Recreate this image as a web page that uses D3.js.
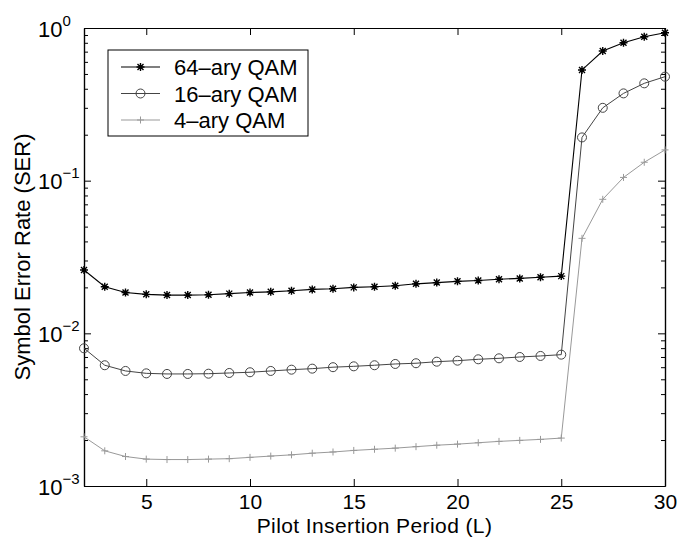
<!DOCTYPE html>
<html>
<head>
<meta charset="utf-8">
<script src="https://cdn.jsdelivr.net/npm/d3@7"></script>
<style>
  html, body { margin: 0; padding: 0; background: #fff; }
  svg { display: block; font-family: "Liberation Sans", Arial, Helvetica, sans-serif; }
</style>
</head>
<body>
<svg id="chart" width="679" height="538"></svg>
<script>
// ---- data ----
const periods = [2,3,4,5,6,7,8,9,10,11,12,13,14,15,16,17,18,19,20,21,22,23,24,25,26,27,28,29,30];
const ser64 = [0.0260,0.0202,0.0185,0.0180,0.0178,0.0178,0.0179,0.0182,0.0185,0.0187,0.0190,0.0194,0.0196,0.0200,0.0202,0.0205,0.0211,0.0215,0.0219,0.0222,0.0226,0.0229,0.0233,0.0237,0.531,0.707,0.800,0.877,0.930];
const ser16 = [0.00798,0.00618,0.00567,0.00547,0.00542,0.00542,0.00544,0.00550,0.00556,0.00567,0.00578,0.00587,0.00600,0.00608,0.00618,0.00630,0.00637,0.00652,0.00662,0.00676,0.00686,0.00700,0.00711,0.00725,0.192,0.300,0.373,0.434,0.480];
const ser4  = [0.00210,0.00170,0.00156,0.00150,0.00149,0.00149,0.00150,0.00151,0.00154,0.00157,0.00160,0.00164,0.00167,0.00171,0.00174,0.00177,0.00181,0.00185,0.00188,0.00192,0.00196,0.00199,0.00202,0.00206,0.0419,0.0755,0.105,0.132,0.159];
const seriesNames = ["64\u2013ary QAM","16\u2013ary QAM","4\u2013ary QAM"];
const xTicks = [5,10,15,20,25,30];
const yMajorExp = [-3,-2,-1,0];

// ---- layout ----
const svg = d3.select("#chart");
const L = 84, R = 665, T = 28, B = 486;
const x = d3.scaleLinear().domain([2,30]).range([L,R]);
const y = d3.scaleLog().domain([1e-3,1]).range([B,T]);
const FS = 22;

const series = [
  {name: seriesNames[0], values: ser64, color: "#000", marker: "star", width: 1.1},
  {name: seriesNames[1], values: ser16, color: "#444", marker: "circle", width: 1},
  {name: seriesNames[2], values: ser4,  color: "#999", marker: "plus", width: 1}
];

// minor ticks
const minorVals = [];
for (let e = -3; e < 0; e++) for (let m = 2; m <= 9; m++) minorVals.push(m * Math.pow(10, e));

// axes (inward ticks)
const gx = svg.append("g").attr("transform", `translate(0,${B})`)
  .call(d3.axisBottom(x).tickValues(xTicks).tickSizeInner(-7).tickSizeOuter(0).tickFormat(d3.format("d")));
const gxTop = svg.append("g").attr("transform", `translate(0,${T})`)
  .call(d3.axisTop(x).tickValues(xTicks).tickSizeInner(-7).tickSizeOuter(0).tickFormat(""));
const gy = svg.append("g").attr("transform", `translate(${L},0)`)
  .call(d3.axisLeft(y).tickValues(yMajorExp.map(e => Math.pow(10, e))).tickSizeInner(-7).tickSizeOuter(0).tickFormat(""));
const gyMinor = svg.append("g").attr("transform", `translate(${L},0)`)
  .call(d3.axisLeft(y).tickValues(minorVals).tickSizeInner(-4).tickSizeOuter(0).tickFormat(""));
const gyR = svg.append("g").attr("transform", `translate(${R},0)`)
  .call(d3.axisRight(y).tickValues(yMajorExp.map(e => Math.pow(10, e))).tickSizeInner(-7).tickSizeOuter(0).tickFormat(""));
const gyRMinor = svg.append("g").attr("transform", `translate(${R},0)`)
  .call(d3.axisRight(y).tickValues(minorVals).tickSizeInner(-4).tickSizeOuter(0).tickFormat(""));

[gx, gxTop, gy, gyMinor, gyR, gyRMinor].forEach(g => {
  g.select(".domain").attr("stroke", "#000").attr("stroke-width", 1.2);
  g.selectAll(".tick line").attr("stroke", "#000").attr("stroke-width", 1);
});
gx.selectAll(".tick text").attr("font-size", 21).attr("fill", "#000")
  .attr("font-family", "Liberation Sans, Arial, sans-serif").attr("dy", null).attr("y", 23);

// y labels 10^e
yMajorExp.forEach(e => {
  const t = svg.append("text").attr("x", 38).attr("y", y(Math.pow(10, e)) + 8.5)
    .attr("font-size", FS).attr("fill", "#000");
  t.append("tspan").text("10");
  t.append("tspan").attr("dy", -11).attr("font-size", 15).text(e === 0 ? "0" : "\u2212" + Math.abs(e));
});

// axis titles
svg.append("text").attr("x", (L + R) / 2).attr("y", 533).attr("text-anchor", "middle")
  .attr("font-size", 21).attr("fill", "#000").attr("letter-spacing", 0.4).text("Pilot Insertion Period (L)");
svg.append("text").attr("transform", `translate(30,${(T + B) / 2}) rotate(-90)`)
  .attr("text-anchor", "middle").attr("font-size", FS).attr("fill", "#000")
  .text("Symbol Error Rate (SER)");

// markers
function drawMarker(g, type, cx, cy, color) {
  if (type === "circle") {
    g.append("circle").attr("cx", cx).attr("cy", cy).attr("r", 4.5)
      .attr("fill", "none").attr("stroke", color).attr("stroke-width", 1);
  } else if (type === "star") {
    const s = 4;
    const d = `M${cx - s},${cy}L${cx + s},${cy}M${cx},${cy - s}L${cx},${cy + s}` +
      `M${cx - s * 0.75},${cy - s * 0.75}L${cx + s * 0.75},${cy + s * 0.75}` +
      `M${cx - s * 0.75},${cy + s * 0.75}L${cx + s * 0.75},${cy - s * 0.75}`;
    g.append("path").attr("d", d).attr("stroke", color).attr("stroke-width", 1.4).attr("fill", "none");
    g.append("circle").attr("cx", cx).attr("cy", cy).attr("r", 1.8).attr("fill", color);
  } else if (type === "plus") {
    const s = 3.5;
    g.append("path").attr("d", `M${cx - s},${cy}L${cx + s},${cy}M${cx},${cy - s}L${cx},${cy + s}`)
      .attr("stroke", color).attr("stroke-width", 1).attr("fill", "none");
  }
}

const line = d3.line().x((d, i) => x(periods[i])).y(d => y(d));
const plot = svg.append("g");
series.slice().reverse().forEach(s => {
  plot.append("path").datum(s.values).attr("d", line)
    .attr("fill", "none").attr("stroke", s.color).attr("stroke-width", s.width);
  s.values.forEach((v, i) => drawMarker(plot, s.marker, x(periods[i]), y(v), s.color));
});

// legend
const lg = svg.append("g");
lg.append("rect").attr("x", 108).attr("y", 50).attr("width", 200).attr("height", 86)
  .attr("fill", "#fff").attr("stroke", "#000").attr("stroke-width", 1);
series.forEach((s, i) => {
  const ly = 67 + i * 26.5;
  lg.append("line").attr("x1", 121).attr("x2", 160).attr("y1", ly).attr("y2", ly)
    .attr("stroke", s.color).attr("stroke-width", s.width);
  drawMarker(lg, s.marker, 140.5, ly, s.color);
  lg.append("text").attr("x", 174).attr("y", ly + 8).attr("font-size", FS).attr("fill", "#000").text(s.name);
});
</script>
</body>
</html>
